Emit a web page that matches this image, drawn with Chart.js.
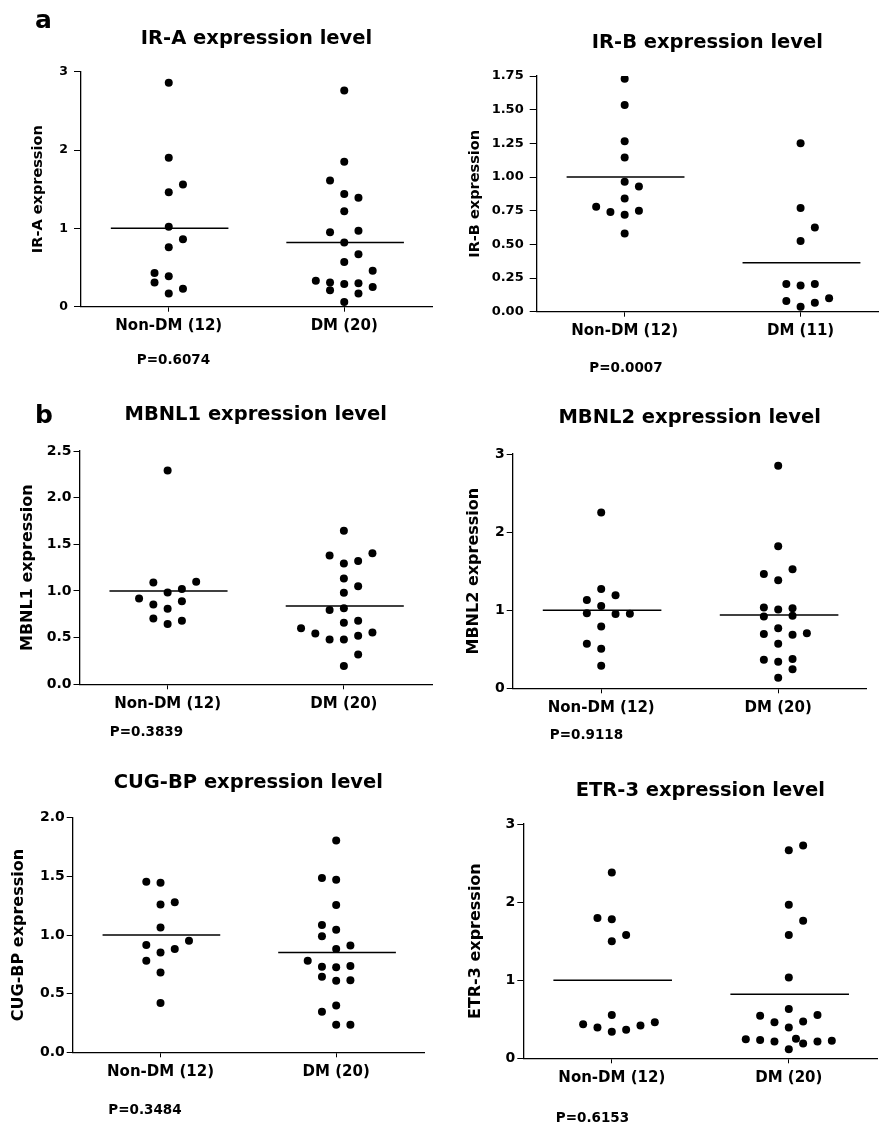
<!DOCTYPE html>
<html>
<head>
<meta charset="utf-8">
<title>Expression levels, Non-DM vs DM</title>
<script src="https://cdn.jsdelivr.net/npm/chart.js@4.4.1/dist/chart.umd.min.js"></script>
<style>
  body { margin: 0; background: #fff; }
  #wrap { position: relative; width: 879px; height: 1128px; }
  canvas { position: absolute; }
</style>
</head>
<body>
<div id="wrap">
  <canvas id="irA"></canvas>
  <canvas id="irB"></canvas>
  <canvas id="mbnl1"></canvas>
  <canvas id="mbnl2"></canvas>
  <canvas id="cugbp"></canvas>
  <canvas id="etr3"></canvas>
</div>
<script>
// Values (estimates).
// *_slot = which column of the dot swarm the point sits in (0 = centre).

// IR-A
const irA_groups = ['Non-DM (12)', 'DM (20)'];
const irA_yTicks = ['0', '1', '2', '3'];
const irA_nonDM = [2.86, 1.90, 1.56, 1.46, 1.02, 0.86, 0.76, 0.43, 0.39, 0.31, 0.23, 0.17];
const irA_nonDM_slot = [0, 0, 1, 0, 0, 1, 0, -1, 0, -1, 1, 0];
const irA_dm = [2.76, 1.85, 1.61, 1.44, 1.39, 1.22, 0.95, 0.97, 0.82, 0.67, 0.57, 0.46, 0.33, 0.31, 0.29, 0.30, 0.25, 0.21, 0.17, 0.06];
const irA_dm_slot = [0, 0, -1, 0, 1, 0, -1, 1, 0, 1, 0, 2, -2, -1, 0, 1, 2, -1, 1, 0];
const irA_means = [1.0, 0.82];

// IR-B
const irB_groups = ['Non-DM (12)', 'DM (11)'];
const irB_yTicks = ['0.00', '0.25', '0.50', '0.75', '1.00', '1.25', '1.50', '1.75'];
const irB_nonDM = [1.73, 1.535, 1.265, 1.145, 0.965, 0.93, 0.84, 0.78, 0.75, 0.74, 0.72, 0.58];
const irB_nonDM_slot = [0, 0, 0, 0, 0, 1, 0, -2, 1, -1, 0, 0];
const irB_dm = [1.25, 0.77, 0.625, 0.525, 0.205, 0.195, 0.205, 0.10, 0.08, 0.067, 0.037];
const irB_dm_slot = [0, 0, 1, 0, -1, 0, 1, 2, -1, 1, 0];
const irB_means = [1.0, 0.364];

// MBNL1
const mbnl1_groups = ['Non-DM (12)', 'DM (20)'];
const mbnl1_yTicks = ['0.0', '0.5', '1.0', '1.5', '2.0', '2.5'];
const mbnl1_nonDM = [2.29, 1.09, 1.10, 1.02, 0.985, 0.92, 0.89, 0.855, 0.81, 0.705, 0.68, 0.645];
const mbnl1_nonDM_slot = [0, -1, 2, 1, 0, -2, 1, -1, 0, -1, 1, 0];
const mbnl1_dm = [1.645, 1.405, 1.38, 1.32, 1.295, 1.135, 1.05, 0.98, 0.815, 0.795, 0.68, 0.66, 0.60, 0.545, 0.555, 0.52, 0.48, 0.48, 0.32, 0.195];
const mbnl1_dm_slot = [0, 2, -1, 1, 0, 0, 1, 0, 0, -1, 1, 0, -3, -2, 2, 1, -1, 0, 1, 0];
const mbnl1_means = [1.0, 0.84];

// MBNL2
const mbnl2_groups = ['Non-DM (12)', 'DM (20)'];
const mbnl2_yTicks = ['0', '1', '2', '3'];
const mbnl2_nonDM = [2.25, 1.27, 1.19, 1.13, 1.055, 0.96, 0.95, 0.955, 0.79, 0.57, 0.505, 0.29];
const mbnl2_nonDM_slot = [0, 0, 1, -1, 0, -1, 1, 2, 0, -1, 0, 0];
const mbnl2_dm = [2.85, 1.82, 1.525, 1.465, 1.385, 1.035, 1.01, 1.025, 0.92, 0.93, 0.77, 0.695, 0.685, 0.705, 0.57, 0.365, 0.34, 0.375, 0.245, 0.135];
const mbnl2_dm_slot = [0, 0, 1, -1, 0, -1, 0, 1, -1, 1, 0, -1, 1, 2, 0, -1, 0, 1, 1, 0];
const mbnl2_means = [1.0, 0.94];

// CUG-BP
const cugbp_groups = ['Non-DM (12)', 'DM (20)'];
const cugbp_yTicks = ['0.0', '0.5', '1.0', '1.5', '2.0'];
const cugbp_nonDM = [1.455, 1.445, 1.28, 1.26, 1.065, 0.95, 0.915, 0.88, 0.85, 0.78, 0.68, 0.42];
const cugbp_nonDM_slot = [-1, 0, 1, 0, 0, 2, -1, 1, 0, -1, 0, 0];
const cugbp_dm = [1.805, 1.485, 1.47, 1.255, 1.085, 1.045, 0.99, 0.91, 0.88, 0.78, 0.73, 0.725, 0.735, 0.645, 0.61, 0.615, 0.40, 0.345, 0.235, 0.235];
const cugbp_dm_slot = [0, -1, 0, 0, -1, 0, -1, 1, 0, -2, -1, 0, 1, -1, 0, 1, 0, -1, 0, 1];
const cugbp_means = [1.0, 0.85];

// ETR-3
const etr3_groups = ['Non-DM (12)', 'DM (20)'];
const etr3_yTicks = ['0', '1', '2', '3'];
const etr3_nonDM = [2.38, 1.795, 1.78, 1.58, 1.50, 0.555, 0.435, 0.395, 0.34, 0.365, 0.42, 0.46];
const etr3_nonDM_slot = [0, -1, 0, 1, 0, 0, -2, -1, 0, 1, 2, 3];
const etr3_dm = [2.665, 2.725, 1.965, 1.76, 1.58, 1.035, 0.63, 0.545, 0.555, 0.46, 0.47, 0.395, 0.245, 0.235, 0.215, 0.25, 0.19, 0.215, 0.225, 0.115];
const etr3_dm_slot = [0, 1, 0, 1, 0, 0, 0, -2, 2, -1, 1, 0, -3, -2, -1, 0.5, 1, 2, 3, 0];
const etr3_means = [1.0, 0.82];

const FONT = '"DejaVu Sans", "Liberation Sans", Arial, sans-serif';
const SLOT = 0.081;      // width of one swarm column in x units
const TITLE_SIZE = 19.5;

// draws the P value under each plot and the panel letter
const annotate = {
  id: 'annotate',
  afterDraw(chart, args, o) {
    const ctx = chart.ctx;
    ctx.save();
    ctx.fillStyle = '#000';
    ctx.font = 'bold 13.5px ' + FONT;
    ctx.textAlign = 'center';
    ctx.textBaseline = 'middle';
    ctx.fillText(o.p, o.px, o.py);
    if (o.letter) {
      ctx.font = 'bold 25px ' + FONT;
      ctx.textAlign = 'left';
      ctx.textBaseline = 'alphabetic';
      ctx.fillText(o.letter, o.lx, o.ly);
    }
    ctx.restore();
  }
};

function swarm(vals, slots, centre) {
  return vals.map((v, i) => ({ x: centre + slots[i] * SLOT, y: v }));
}
function meanLine(m, centre) {
  return [{ x: centre - 0.33, y: m }, { x: centre + 0.34, y: m }];
}

// g holds page geometry (pixels) for one panel
function drawPanel(id, title, yTitle, groups, yTicks, nonDM, nonDMSlot, dm, dmSlot, means, pText, g) {
  const canvas = document.getElementById(id);
  canvas.width = g.W;
  canvas.height = g.H;
  canvas.style.left = g.L + 'px';
  canvas.style.top = g.T + 'px';

  const lh = TITLE_SIZE * 1.2;
  const tTop = g.titleY - g.T - lh / 2;
  const tBottom = g.top - g.T - tTop - lh;
  const yTitleLH = g.yTitleSize * 1.2;
  const tickVals = yTicks.map(Number);
  const XH = 40;

  new Chart(canvas, {
    type: 'scatter',
    data: {
      datasets: [
        { data: swarm(nonDM, nonDMSlot, 1), backgroundColor: '#000', borderWidth: 0, pointRadius: 4 },
        { data: swarm(dm, dmSlot, 2), backgroundColor: '#000', borderWidth: 0, pointRadius: 4 },
        { data: meanLine(means[0], 1), showLine: true, borderColor: '#000', borderWidth: 1.5, pointRadius: 0 },
        { data: meanLine(means[1], 2), showLine: true, borderColor: '#000', borderWidth: 1.5, pointRadius: 0 }
      ]
    },
    options: {
      responsive: false,
      animation: false,
      events: [],
      layout: {
        autoPadding: false,
        padding: { left: 0, top: 0, right: g.L + g.W - g.x1, bottom: g.T + g.H - g.bot - XH }
      },
      plugins: {
        legend: { display: false },
        tooltip: { enabled: false },
        title: {
          display: true,
          text: title,
          fullSize: false,
          color: '#000',
          font: { family: FONT, size: TITLE_SIZE, weight: 'bold' },
          padding: { top: tTop, bottom: tBottom }
        },
        annotate: {
          p: pText, px: g.px - g.L, py: g.py - g.T,
          letter: g.letter, lx: g.lx - g.L, ly: g.ly - g.T
        }
      },
      scales: {
        x: {
          type: 'linear',
          min: 0.5,
          max: g.xMax,
          afterBuildTicks: s => { s.ticks = [{ value: 1 }, { value: 2 }]; },
          afterFit: s => { s.height = XH; },
          ticks: {
            callback: (v, i) => groups[i],
            color: '#000',
            padding: 5.5,
            maxRotation: 0,
            autoSkip: false,
            font: { family: FONT, size: 15, weight: 'bold' }
          },
          grid: { drawOnChartArea: false, drawTicks: true, tickLength: 5, color: '#000', lineWidth: 1 },
          border: { color: '#000', width: 1.3 }
        },
        y: {
          min: tickVals[0],
          max: tickVals[tickVals.length - 1],
          afterBuildTicks: s => { s.ticks = tickVals.map(v => ({ value: v })); },
          afterFit: s => { s.width = g.x0 - g.L; },
          ticks: {
            callback: (v, i) => yTicks[i],
            color: '#000',
            padding: g.yTickPad,
            font: { family: FONT, size: g.yTickSize, weight: 'bold' }
          },
          grid: { drawOnChartArea: false, drawTicks: true, tickLength: g.yTickLen, color: '#000', lineWidth: 1 },
          border: { color: '#000', width: 1.3 },
          title: {
            display: true,
            text: yTitle,
            color: '#000',
            font: { family: FONT, size: g.yTitleSize, weight: 'bold' },
            padding: { top: g.yTitleX - g.L - yTitleLH / 2, bottom: 0 }
          }
        }
      }
    },
    plugins: [annotate]
  });
}

drawPanel('irA', 'IR-A expression level', 'IR-A expression', irA_groups, irA_yTicks,
  irA_nonDM, irA_nonDM_slot, irA_dm, irA_dm_slot, irA_means, 'P=0.6074',
  { L: 0, T: 0, W: 440, H: 380, x0: 81, x1: 432, top: 71.7, bot: 306.7, xMax: 2.5,
    titleY: 38.5, yTitleX: 38.6, yTitleSize: 14.5, yTickSize: 12.5, yTickLen: 7, yTickPad: 6,
    px: 173.5, py: 360, letter: 'a', lx: 35, ly: 28 });

drawPanel('irB', 'IR-B expression level', 'IR-B expression', irB_groups, irB_yTicks,
  irB_nonDM, irB_nonDM_slot, irB_dm, irB_dm_slot, irB_means, 'P=0.0007',
  { L: 440, T: 0, W: 439, H: 380, x0: 536.7, x1: 878, top: 76, bot: 311.7, xMax: 2.44,
    titleY: 42.7, yTitleX: 475.3, yTitleSize: 14.5, yTickSize: 13, yTickLen: 7, yTickPad: 6,
    px: 626, py: 368 });

drawPanel('mbnl1', 'MBNL1 expression level', 'MBNL1 expression', mbnl1_groups, mbnl1_yTicks,
  mbnl1_nonDM, mbnl1_nonDM_slot, mbnl1_dm, mbnl1_dm_slot, mbnl1_means, 'P=0.3839',
  { L: 0, T: 380, W: 440, H: 370, x0: 79.5, x1: 432, top: 451, bot: 684.3, xMax: 2.5,
    titleY: 415, yTitleX: 27.5, yTitleSize: 16, yTickSize: 14, yTickLen: 6, yTickPad: 2,
    px: 146.5, py: 732.5, letter: 'b', lx: 35, ly: 423 });

drawPanel('mbnl2', 'MBNL2 expression level', 'MBNL2 expression', mbnl2_groups, mbnl2_yTicks,
  mbnl2_nonDM, mbnl2_nonDM_slot, mbnl2_dm, mbnl2_dm_slot, mbnl2_means, 'P=0.9118',
  { L: 440, T: 380, W: 439, H: 370, x0: 512.7, x1: 866.7, top: 454, bot: 688.3, xMax: 2.5,
    titleY: 417.5, yTitleX: 474.1, yTitleSize: 16, yTickSize: 14, yTickLen: 6, yTickPad: 2,
    px: 586.5, py: 735 });

drawPanel('cugbp', 'CUG-BP expression level', 'CUG-BP expression', cugbp_groups, cugbp_yTicks,
  cugbp_nonDM, cugbp_nonDM_slot, cugbp_dm, cugbp_dm_slot, cugbp_means, 'P=0.3484',
  { L: 0, T: 750, W: 440, H: 378, x0: 72.7, x1: 424, top: 817.7, bot: 1052.3, xMax: 2.5,
    titleY: 782.5, yTitleX: 19.1, yTitleSize: 16, yTickSize: 14, yTickLen: 6, yTickPad: 2,
    px: 145, py: 1110 });

drawPanel('etr3', 'ETR-3 expression level', 'ETR-3 expression', etr3_groups, etr3_yTicks,
  etr3_nonDM, etr3_nonDM_slot, etr3_dm, etr3_dm_slot, etr3_means, 'P=0.6153',
  { L: 440, T: 750, W: 439, H: 378, x0: 523.3, x1: 877.3, top: 824, bot: 1058.3, xMax: 2.5,
    titleY: 790.5, yTitleX: 475.8, yTitleSize: 16, yTickSize: 14, yTickLen: 6, yTickPad: 2,
    px: 592.5, py: 1118.3 });
</script>
</body>
</html>
